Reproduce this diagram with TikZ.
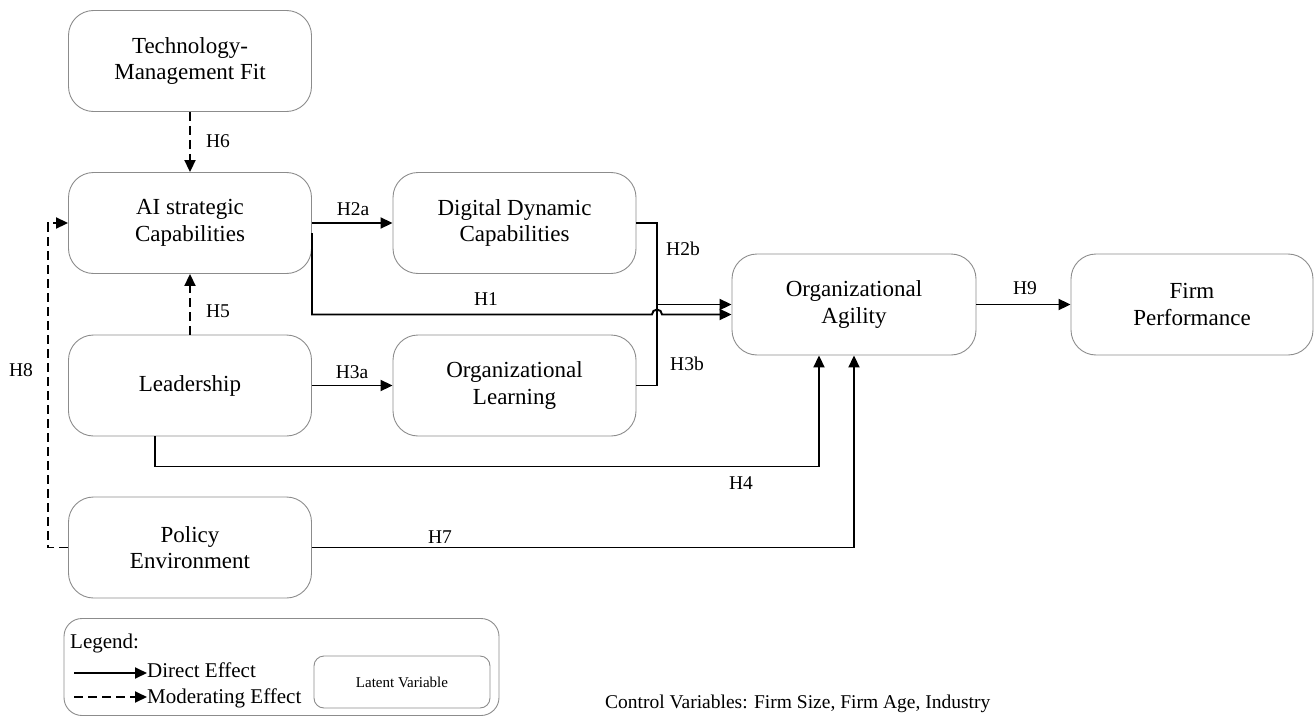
\documentclass[tikz,border=0pt]{standalone}
\usepackage{fontspec}
\setmainfont{Liberation Serif}
\usetikzlibrary{arrows.meta,calc}
\begin{document}
\begin{tikzpicture}[x=1pt,y=-1pt,
  box/.style={draw=black!45,line width=0.9pt,rounded corners=25pt,minimum width=243pt,minimum height=101pt,align=center,font=\fontsize{23}{26.5}\selectfont,inner sep=0pt},
  plain/.style={line width=1.9pt},
  conn/.style={plain,-{Triangle[length=12pt,width=11pt]}},
  modconn/.style={conn,dash pattern=on 9pt off 5pt},
  lbl/.style={font=\fontsize{19.5}{22}\selectfont,inner sep=0pt},
  legtxt/.style={font=\fontsize{21}{24}\selectfont,inner sep=0pt,anchor=base west}]
\useasboundingbox (0,0) rectangle (1315,717);
% nodes
\node[box] (tmf) at (190,61) {Technology-\\Management Fit};
\node[box] (ai) at (190,223) {AI strategic\\Capabilities};
\node[box] (ddc) at (514.5,223) {Digital Dynamic\\Capabilities};
\node[box] (lead) at (190,385.5) {Leadership};
\node[box] (ol) at (514.5,385.5) {Organizational\\Learning};
\node[box] (pe) at (190,547.5) {Policy\\Environment};
\node[box,minimum width=244pt] (oa) at (854,304.5) {Organizational\\Agility};
\node[box,minimum width=242pt] (fp) at (1192,304.5) {Firm\\Performance};
% junction points
\coordinate (jx) at (657,304.5);
\coordinate (hop) at (652,314.5);
% connectors
\draw[modconn] (tmf.south) -- (ai.north);
\draw[modconn] (lead.north) -- (ai.south);
\draw[conn] (ai.east) -- (ddc.west);
\draw[conn] (lead.east) -- (ol.west);
\draw[plain] (ddc.east) -| (jx);
\draw[plain] (ol.east) -| (jx);
\draw[conn] (jx) -- (oa.west);
\draw[conn] ($(ai.east)+(0,10)$) |- (hop) arc (180:0:5pt) -- ($(oa.west)+(0,10)$);
\draw[conn] ($(lead.south)+(-35,0)$) -- ++(0,30) -| ($(oa.south)+(-35,0)$);
\draw[conn] (pe.east) -| (oa.south);
\draw[modconn] (pe.west) -- (48,547.5) |- (ai.west);
\draw[conn] (oa.east) -- (fp.west);
% labels
\node[lbl] (l6) at (218,141) {H6};
\node[lbl] (l2a) at (353,209) {H2a};
\node[lbl] (l2b) at (683,249) {H2b};
\node[lbl] (l1) at (486,299) {H1};
\node[lbl] (l3b) at (687,364) {H3b};
\node[lbl] (l9) at (1025,288) {H9};
\node[lbl] (l5) at (218,311) {H5};
\node[lbl] (l8) at (21,370) {H8};
\node[lbl] (l3a) at (352,372) {H3a};
\node[lbl] (l4) at (741,483) {H4};
\node[lbl] (l7) at (440,537) {H7};
% legend
\node[draw=black!45,line width=0.9pt,rounded corners=18pt,minimum width=435pt,minimum height=97pt,inner sep=0pt] (leg) at (281.5,667) {};
\node[legtxt] (legt) at (70,648) {Legend:};
\coordinate (da) at (74,673);
\node[legtxt] (det) at (147,677) {Direct Effect};
\draw[conn] (da) -- (det.west |- da);
\coordinate (ma) at (74,697);
\node[legtxt] (met) at (147,703) {Moderating Effect};
\draw[modconn] (ma) -- (met.west |- ma);
\node[draw=black!45,line width=0.9pt,rounded corners=10pt,minimum width=176pt,minimum height=52pt,inner sep=0pt,font=\fontsize{15}{18}\selectfont] (lv) at (402,682) {Latent Variable};
% control variables
\node[font=\fontsize{19.5}{22}\selectfont,inner sep=0pt,anchor=base west] (cv) at (605,708) {Control Variables: Firm Size, Firm Age, Industry};
\end{tikzpicture}
\end{document}
